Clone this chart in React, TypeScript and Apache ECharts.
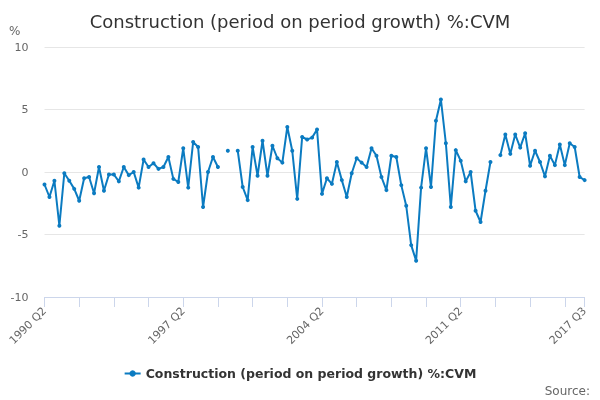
import React, { useRef, useEffect } from "react";
import * as echarts from "echarts";

const seriesName = "Construction (period on period growth) %:CVM";

// quarterly labels, 1990 Q2 .. 2017 Q3
const quarters: string[] = [];
for (let y = 1990; y <= 2017; y++) {
  for (let q = 1; q <= 4; q++) {
    if (y === 1990 && q < 2) continue;
    if (y === 2017 && q > 3) continue;
    quarters.push(`${y} Q${q}`);
  }
}

const growth: (number | null)[] = [
  -1.0, -2.0, -0.7, -4.3, -0.1, -0.7, -1.35, -2.3, -0.5, -0.4,
  -1.7, 0.4, -1.5, -0.2, -0.2, -0.75, 0.4, -0.25, 0.0, -1.25,
  1.0, 0.4, 0.7, 0.25, 0.4, 1.2, -0.55, -0.8, 1.9, -1.25,
  2.4, 2.0, -2.8, 0.0, 1.2, 0.4, null, 1.7, null, 1.7,
  -1.2, -2.25, 2.0, -0.3, 2.5, -0.3, 2.1, 1.1, 0.75, 3.6,
  1.7, -2.15, 2.8, 2.6, 2.75, 3.4, -1.75, -0.5, -0.95, 0.8,
  -0.65, -2.0, -0.1, 1.1, 0.75, 0.4, 1.9, 1.3, -0.4, -1.45,
  1.3, 1.2, -1.05, -2.7, -5.85, -7.1, -1.25, 1.9, -1.2, 4.1,
  5.8, 2.3, -2.8, 1.75, 0.9, -0.75, 0.0, -3.1, -4.0, -1.5,
  0.8, null, 1.35, 3.0, 1.45, 3.0, 1.95, 3.1, 0.5, 1.7,
  0.8, -0.35, 1.3, 0.55, 2.2, 0.55, 2.3, 2.0, -0.4, -0.65,
];

const font = "DejaVu Sans";
const lineColor = "#0b7bc1";

export default function App() {
  const chartRef = useRef<HTMLDivElement>(null);

  useEffect(() => {
    if (!chartRef.current) return;
    const chart = echarts.init(chartRef.current, undefined, { renderer: "svg" });
    const last = quarters.length - 1;

    chart.setOption({
      animation: false,
      textStyle: { fontFamily: font },
      title: {
        text: "Construction (period on period growth) %:CVM",
        left: "center",
        top: 7,
        textStyle: { fontSize: 18, fontWeight: "normal", color: "#333333", fontFamily: font },
      },
      grid: { left: 44.5, right: 15.4, top: 47, bottom: 103 },
      legend: {
        bottom: 15,
        left: "center",
        itemWidth: 16,
        itemHeight: 8,
        itemGap: 6,
        textStyle: { fontSize: 12.5, fontWeight: "bold", color: "#333333", fontFamily: font },
        data: [seriesName],
      },
      graphic: [
        {
          type: "text",
          left: 9,
          top: 25,
          style: { text: "%", fontSize: 12, fill: "#666666", fontFamily: font },
        },
        {
          type: "text",
          right: 10,
          bottom: 3,
          style: { text: "Source:", fontSize: 12, fill: "#666666", fontFamily: font },
        },
      ],
      xAxis: {
        type: "category",
        data: quarters,
        boundaryGap: false,
        axisLine: { onZero: false, lineStyle: { color: "#ccd6eb" } },
        axisTick: {
          show: true,
          length: 10,
          lineStyle: { color: "#ccd6eb" },
          interval: (i: number) => i % 7 === 0 || i === last,
        },
        axisLabel: {
          rotate: 45,
          margin: 12,
          fontSize: 11,
          color: "#666666",
          fontFamily: font,
          interval: (i: number) => i % 28 === 0 || i === last,
        },
        splitLine: { show: false },
      },
      yAxis: {
        type: "value",
        min: -10,
        max: 10,
        interval: 5,
        axisLine: { show: false },
        axisTick: { show: false },
        axisLabel: { fontSize: 11, color: "#666666", margin: 16, fontFamily: font },
        splitLine: { lineStyle: { color: "#e6e6e6" } },
      },
      series: [
        {
          name: seriesName,
          type: "line",
          data: growth,
          connectNulls: false,
          symbol: "circle",
          symbolSize: 4,
          showSymbol: true,
          showAllSymbol: true,
          lineStyle: { width: 2, color: lineColor },
          itemStyle: { color: lineColor },
        },
      ],
    });

    return () => chart.dispose();
  }, []);

  return (
    <div
      ref={chartRef}
      style={{ position: "fixed", left: 0, top: 0, width: 600, height: 400 }}
    />
  );
}
